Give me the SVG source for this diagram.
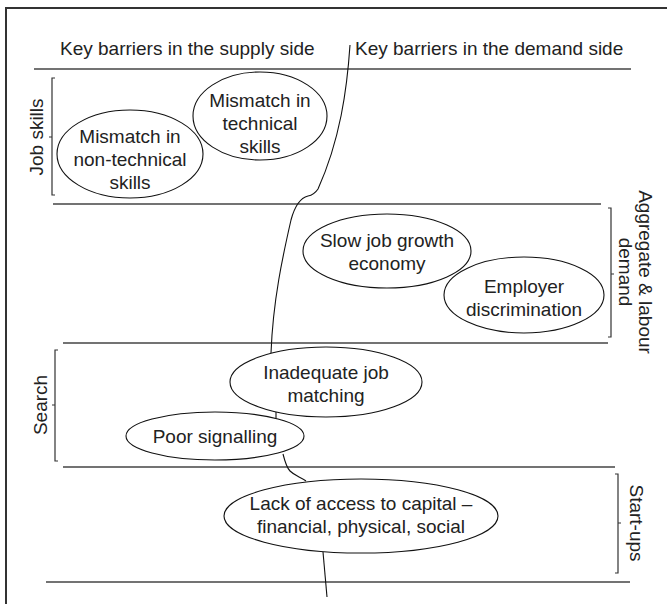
<svg xmlns="http://www.w3.org/2000/svg" width="667" height="604" viewBox="0 0 667 604">
  <style>
    text { font-family: "Liberation Sans", Arial, sans-serif; font-size: 19px; fill: #222; }
    .c { text-anchor: middle; }
    .rule { stroke: #444; stroke-width: 1.6; fill: none; }
    .bracket { stroke: #333; stroke-width: 1.2; fill: none; }
    .node ellipse { fill: #fff; stroke: #111; stroke-width: 1.1; }
    .link { stroke: #111; stroke-width: 1.1; fill: none; }
  </style>

  <rect x="0" y="0" width="667" height="604" fill="#fff"/>
  <!-- outer frame (runs off the right and bottom edges) -->
  <rect x="6" y="8" width="720" height="640" fill="none" stroke="#333" stroke-width="2"/>

  <!-- column headings -->
  <text x="60" y="55">Key barriers in the supply side</text>
  <text x="355" y="55">Key barriers in the demand side</text>

  <!-- band separators -->
  <g id="rules">
    <line class="rule" x1="34" y1="69" x2="631" y2="69"/>
    <line class="rule" x1="53" y1="204" x2="601" y2="204"/>
    <line class="rule" x1="63" y1="343" x2="608" y2="343"/>
    <line class="rule" x1="63" y1="467" x2="615" y2="467"/>
    <line class="rule" x1="46" y1="582" x2="630" y2="582"/>
  </g>

  <!-- band brackets and labels -->
  <g id="band-job-skills">
    <path class="bracket" d="M55,78 H52 V195 H55 M52,137 H49"/>
    <text class="c" transform="translate(43,137) rotate(-90)">Job skills</text>
  </g>
  <g id="band-aggregate">
    <path class="bracket" d="M608,208 H611 V337 H608 M611,274 H614"/>
    <text class="c" transform="translate(639,272) rotate(90)">Aggregate &amp; labour</text>
    <text class="c" transform="translate(619,272) rotate(90)">demand</text>
  </g>
  <g id="band-search">
    <path class="bracket" d="M58,350 H55 V461 H58 M55,405 H52"/>
    <text class="c" transform="translate(47,405) rotate(-90)">Search</text>
  </g>
  <g id="band-startups">
    <path class="bracket" d="M615,474 H618 V573 H615 M618,523 H621"/>
    <text class="c" transform="translate(630,523) rotate(90)">Start-ups</text>
  </g>

  <!-- dividing curve between supply and demand sides -->
  <g id="connectors">
    <path class="link" d="M350,45 C347,90 340,140 318,189 Q314,195 308,196 C300,198 295,205 291,220 C283,255 273,300 271,353"/>
    <path class="link" d="M276,412 L276,419"/>
    <path class="link" d="M283,454 C285,462 287,468 290,471 C295,476 301,477 306,481"/>
    <path class="link" d="M323,552 L327,597"/>
  </g>

  <!-- barrier nodes -->
  <g id="node-nontechnical" class="node">
    <ellipse cx="130" cy="154" rx="73" ry="44"/>
    <text class="c" x="130" y="143">Mismatch in</text>
    <text class="c" x="130" y="166">non-technical</text>
    <text class="c" x="130" y="189">skills</text>
  </g>
  <g id="node-technical" class="node">
    <ellipse cx="260" cy="116" rx="67" ry="44"/>
    <text class="c" x="260" y="107">Mismatch in</text>
    <text class="c" x="260" y="130">technical</text>
    <text class="c" x="260" y="153">skills</text>
  </g>
  <g id="node-slow-growth" class="node">
    <ellipse cx="387" cy="251" rx="84" ry="37"/>
    <text class="c" x="387" y="247">Slow job growth</text>
    <text class="c" x="387" y="270">economy</text>
  </g>
  <g id="node-discrimination" class="node">
    <ellipse cx="524" cy="295" rx="80" ry="38"/>
    <text class="c" x="524" y="293">Employer</text>
    <text class="c" x="524" y="316">discrimination</text>
  </g>
  <g id="node-matching" class="node">
    <ellipse cx="326" cy="382" rx="96" ry="35"/>
    <text class="c" x="326" y="379">Inadequate job</text>
    <text class="c" x="326" y="402">matching</text>
  </g>
  <g id="node-signalling" class="node">
    <ellipse cx="215" cy="436" rx="89" ry="24"/>
    <text class="c" x="215" y="443">Poor signalling</text>
  </g>
  <g id="node-capital" class="node">
    <ellipse cx="361" cy="516" rx="137" ry="37"/>
    <text class="c" x="361" y="510">Lack of access to capital –</text>
    <text class="c" x="361" y="533">financial, physical, social</text>
  </g>
</svg>
